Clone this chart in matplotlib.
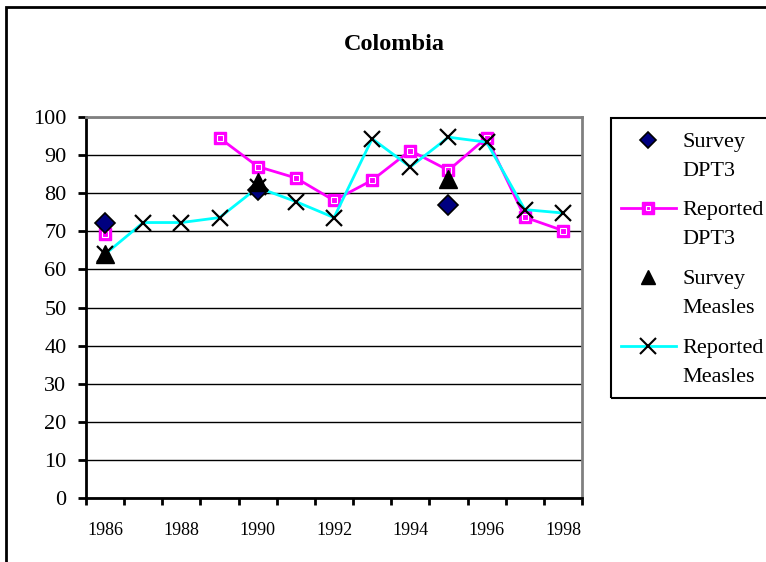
import numpy as np
import matplotlib
matplotlib.use("Agg")
import matplotlib.pyplot as plt
from matplotlib.lines import Line2D
from matplotlib.patches import Rectangle

plt.rcParams["font.family"] = ["Liberation Serif", "DejaVu Serif"]

years = list(range(1986, 1999))
tick_years = [1986, 1988, 1990, 1992, 1994, 1996, 1998]

# reported coverage (NaN = no value)
reported_dpt3 = [69.2, np.nan, np.nan, 94.5, 87.0, 84.0, 78.1, 83.4, 91.2, 86.0, 94.6, 73.7, 70.2]
reported_measles = [64.0, 72.3, 72.3, 73.6, 81.5, 77.8, 73.6, 94.3, 86.9, 94.7, 93.4, 75.7, 74.8]

# survey points
survey_dpt3_years = [1986, 1990, 1995]
survey_dpt3 = [72.3, 80.9, 77.0]
survey_measles_years = [1986, 1990, 1995]
survey_measles = [64.0, 83.0, 83.6]

W, H = 766, 562


def fx(px):
    return px / W


def fy(py):
    return 1 - py / H


fig = plt.figure(figsize=(W / 100, H / 100), dpi=100)

# outer chart frame (right/bottom run off the picture)
fig.patches.append(Rectangle((fx(6), fy(600)), fx(800), fy(7) - fy(600),
                             transform=fig.transFigure, fill=False,
                             edgecolor="black", linewidth=2))

ax = fig.add_axes([fx(86), fy(498), fx(582) - fx(86), fy(117) - fy(498)])

ax.plot(years, reported_dpt3, color="magenta", lw=2, zorder=3,
        marker="s", ms=9, mfc="magenta", mec="magenta")
ax.plot(years, reported_dpt3, ls="none", zorder=3.1,
        marker="s", ms=4, mfc="none", mec="white", mew=0.8)
ax.plot(years, reported_measles, color="cyan", lw=2, zorder=4,
        marker="x", ms=11, mec="black", mew=1.6)
ax.plot(survey_dpt3_years, survey_dpt3, ls="none", zorder=5,
        marker="D", ms=10, mfc="#000080", mec="black", mew=1.2)
ax.plot(survey_measles_years, survey_measles, ls="none", zorder=6,
        marker="^", ms=13, mfc="black", mec="black")

ax.set_xlim(1985.5, 1998.5)
ax.set_ylim(0, 100)
ax.set_yticks(range(0, 101, 10))
ax.yaxis.grid(True, color="black", lw=1)
ax.set_axisbelow(True)

ax.set_xticks(np.arange(1985.5, 1999, 1))
ax.set_xticklabels([])
ax.set_xticks(tick_years, minor=True)
ax.set_xticklabels([str(y) for y in tick_years], minor=True, fontsize=13)
ax.tick_params(axis="x", which="major", direction="out", length=5, width=2)
ax.tick_params(axis="x", which="minor", length=0, pad=17)
ax.tick_params(axis="y", direction="out", length=6, width=2, labelsize=16, pad=8)

for side in ["left", "bottom"]:
    ax.spines[side].set_linewidth(2)
    ax.spines[side].set_color("black")
for side in ["top", "right"]:
    ax.spines[side].set_linewidth(2)
    ax.spines[side].set_color("#808080")

fig.text(fx(394), fy(44), "Colombia", ha="center", va="center",
         fontsize=17.5, fontweight="bold")

# legend box
fig.patches.append(Rectangle((fx(611), fy(398)), fx(200), fy(118) - fy(398),
                             transform=fig.transFigure, fill=False,
                             edgecolor="black", linewidth=1.5))

legend_rows = [
    ("Survey\nDPT3", None, dict(marker="D", ms=8, mfc="#000080", mec="black", mew=1.2)),
    ("Reported\nDPT3", "magenta", dict(marker="s", ms=8, mfc="magenta", mec="magenta")),
    ("Survey\nMeasles", None, dict(marker="^", ms=10, mfc="black", mec="black")),
    ("Reported\nMeasles", "cyan", dict(marker="x", ms=11, mec="black", mew=1.5)),
]
row_y = [140, 208, 277, 346]
for (label, line_color, mstyle), y in zip(legend_rows, row_y):
    if line_color:
        fig.lines.append(Line2D([fx(621), fx(676)], [fy(y), fy(y)],
                                transform=fig.transFigure, color=line_color, lw=2))
    fig.lines.append(Line2D([fx(648)], [fy(y)], transform=fig.transFigure,
                            linestyle="none", **mstyle))
    if line_color == "magenta":
        fig.lines.append(Line2D([fx(648)], [fy(y)], transform=fig.transFigure,
                                linestyle="none", marker="s", ms=3.5,
                                mfc="none", mec="white", mew=0.8))
    fig.text(fx(682), fy(y + 17), label, ha="left", va="center",
             fontsize=16, linespacing=1.65)

fig.savefig("out.png", dpi=100)
